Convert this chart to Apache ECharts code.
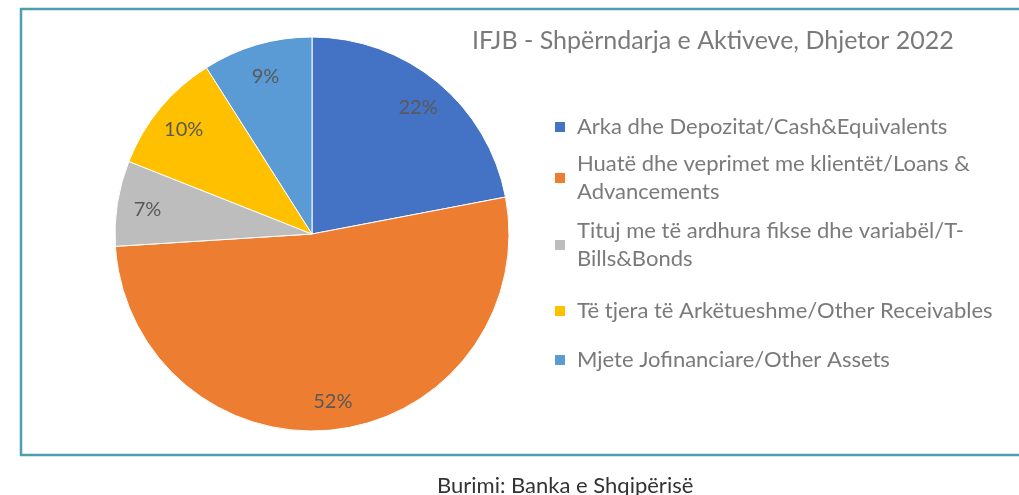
<!DOCTYPE html>
<html>
<head>
<meta charset="utf-8">
<script src="https://cdn.jsdelivr.net/npm/echarts@6/dist/echarts.min.js"></script>
<style>
html, body { margin: 0; padding: 0; background: #fff; }
#pie { width: 1019px; height: 495px; }
</style>
</head>
<body>
<div id="pie"></div>
<script>
// te dhenat
var emrat = [
    'Arka dhe Depozitat/Cash&Equivalents',
    'Huatë dhe veprimet me klientët/Loans & Advancements',
    'Tituj me të ardhura fikse dhe variabël/T-Bills&Bonds',
    'Të tjera të Arkëtueshme/Other Receivables',
    'Mjete Jofinanciare/Other Assets'
];
var vlerat = [22, 52, 7, 10, 9];
var ngjyrat = ['#4472C4', '#ED7D31', '#BDBDBD', '#FFC000', '#5B9BD5'];
// si ndahen rreshtat ne legjende
var rreshtat = [
    ['Arka dhe Depozitat/Cash&Equivalents'],
    ['Huatë dhe veprimet me klientët/Loans &', 'Advancements'],
    ['Tituj me të ardhura fikse dhe variabël/T-', 'Bills&Bonds'],
    ['Të tjera të Arkëtueshme/Other Receivables'],
    ['Mjete Jofinanciare/Other Assets']
];
var qendratLegj = [127, 178, 245, 311, 360];

var fontKryesor = 'Lato, "Noto Sans", sans-serif';
var LH = 28;

var data = emrat.map(function (n, i) {
    return { name: n, value: vlerat[i], itemStyle: { color: ngjyrat[i] } };
});

var legjendat = emrat.map(function (n, i) {
    var dy = rreshtat[i].length > 1 ? 1.5 * LH : LH / 2;
    return {
        orient: 'vertical',
        left: 553,
        top: qendratLegj[i] - dy,
        padding: 0,
        itemWidth: 12,
        itemHeight: 12,
        icon: 'rect',
        selectedMode: false,
        data: [n],
        formatter: function () { return rreshtat[i].join('\n'); },
        textStyle: {
            fontFamily: fontKryesor,
            fontSize: 22,
            color: '#7a7a7a',
            lineHeight: LH,
            padding: rreshtat[i].length > 1 ? [LH, 0, 0, 6] : [0, 0, 0, 6]
        }
    };
});

var myChart = echarts.init(document.getElementById('pie'));
myChart.setOption({
    animation: false,
    title: {
        text: 'IFJB - Shpërndarja e Aktiveve, Dhjetor 2022',
        left: 472,
        top: 28,
        padding: 0,
        textStyle: {
            fontFamily: fontKryesor,
            fontWeight: 'normal',
            fontSize: 25,
            color: '#7a7a7a'
        }
    },
    legend: legjendat,
    graphic: [
        {
            type: 'rect',
            shape: { x: 21, y: 9, width: 1010, height: 446 },
            style: { fill: 'none', stroke: '#4B9FB0', lineWidth: 2.5 },
            z: -1
        },
        {
            type: 'text',
            left: 437,
            top: 475,
            style: {
                text: 'Burimi: Banka e Shqipërisë',
                font: '22px ' + fontKryesor,
                fill: '#333'
            }
        }
    ],
    series: [
        {
            name: 'Aktivet',
            type: 'pie',
            center: [312, 234],
            radius: 197,
            startAngle: 90,
            clockwise: true,
            label: { show: false },
            labelLine: { show: false },
            itemStyle: { borderColor: '#fff', borderWidth: 1 },
            silent: true,
            data: data
        },
        {
            // unaze e padukshme vetem per etiketat
            name: 'Etiketat',
            type: 'pie',
            center: [312, 236],
            radius: [130, 197],
            startAngle: 90,
            clockwise: true,
            silent: true,
            itemStyle: { color: 'rgba(0,0,0,0)' },
            label: {
                show: true,
                position: 'inside',
                formatter: '{c}%',
                fontFamily: 'Lato, "Open Sans", sans-serif',
                fontSize: 20,
                color: '#595959'
            },
            labelLine: { show: false },
            data: emrat.map(function (n, i) { return { name: n, value: vlerat[i] }; })
        }
    ]
});
</script>
</body>
</html>
